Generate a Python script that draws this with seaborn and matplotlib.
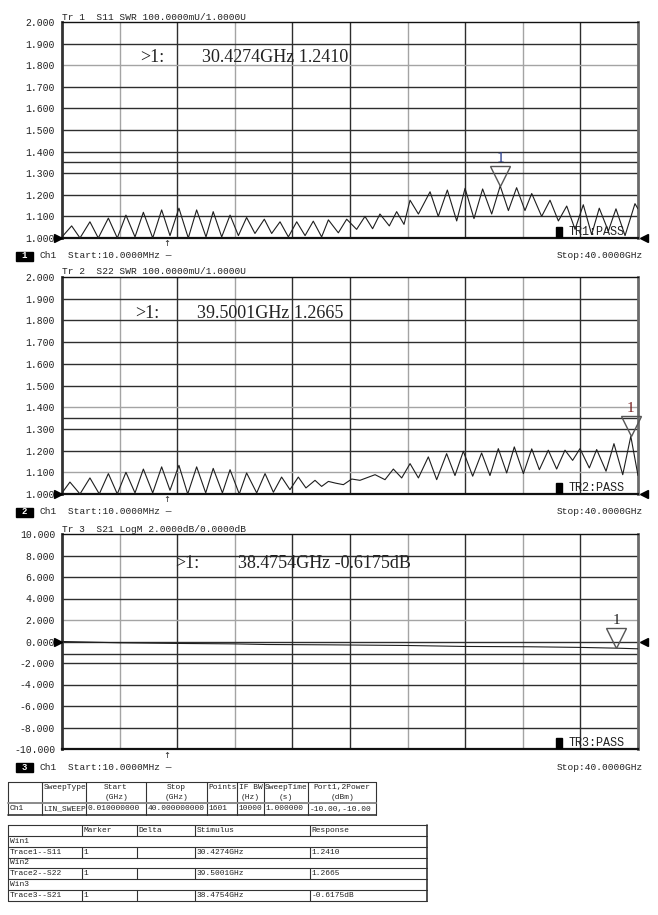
import matplotlib
matplotlib.use("Agg")
import matplotlib.pyplot as plt
import seaborn as sns
from matplotlib.patches import Rectangle
from matplotlib.transforms import offset_copy

# S11 trace (GHz, SWR)
s11_ghz = [0.00, 0.67, 1.25, 1.94, 2.52, 3.22, 3.84, 4.44, 5.07, 5.65, 6.30, 6.92,
           7.50, 8.12, 8.77, 9.35, 10.00, 10.50, 11.09, 11.67, 12.25, 12.82, 13.40,
           14.05, 14.56, 15.14, 15.72, 16.30, 16.88, 17.45, 18.03, 18.50, 19.19,
           19.77, 20.46, 21.04, 21.57, 22.08, 22.73, 23.24, 23.75, 24.17, 24.75,
           25.56, 26.13, 26.76, 27.41, 27.99, 28.61, 29.21, 29.84, 30.43, 31.00,
           31.57, 32.15, 32.62, 33.31, 33.89, 34.47, 35.05, 35.63, 36.20, 36.78,
           37.31, 37.94, 38.47, 39.10, 39.79, 40.00]
s11_swr = [1.005, 1.056, 1.000, 1.075, 1.000, 1.092, 1.000, 1.106, 1.005, 1.119, 1.000, 1.130,
           1.011, 1.138, 1.000, 1.130, 1.005, 1.122, 1.005, 1.106, 1.011, 1.095, 1.021,
           1.087, 1.021, 1.075, 1.005, 1.075, 1.011, 1.078, 1.005, 1.084, 1.024,
           1.087, 1.040, 1.100, 1.043, 1.111, 1.056, 1.122, 1.063, 1.175, 1.111,
           1.214, 1.100, 1.222, 1.079, 1.230, 1.090, 1.227, 1.111, 1.241, 1.127,
           1.233, 1.127, 1.206, 1.100, 1.175, 1.079, 1.148, 1.040, 1.154, 1.016,
           1.138, 1.032, 1.135, 1.011, 1.159, 1.135]

# S22 trace (GHz, SWR)
s22_ghz = [0.00, 0.55, 1.25, 1.94, 2.59, 3.22, 3.84, 4.44, 5.07, 5.65, 6.30, 6.92,
           7.50, 8.12, 8.73, 9.35, 9.98, 10.50, 11.14, 11.67, 12.31, 12.82, 13.52,
           14.10, 14.68, 15.25, 15.83, 16.41, 16.94, 17.57, 18.03, 18.50, 19.00,
           19.54, 20.12, 20.69, 21.74, 22.43, 23.01, 23.59, 24.17, 24.75, 25.44,
           26.02, 26.71, 27.29, 27.87, 28.52, 29.14, 29.72, 30.30, 30.88, 31.41,
           32.04, 32.62, 33.15, 33.77, 34.35, 34.93, 35.46, 35.97, 36.62, 37.13,
           37.78, 38.33, 38.94, 39.50, 40.00]
s22_swr = [1.005, 1.055, 1.000, 1.074, 1.000, 1.094, 1.000, 1.100, 1.005, 1.115, 1.005, 1.125,
           1.017, 1.132, 1.000, 1.125, 1.005, 1.118, 1.005, 1.112, 1.000, 1.097, 1.005,
           1.094, 1.008, 1.078, 1.020, 1.078, 1.028, 1.063, 1.035, 1.058, 1.050,
           1.043, 1.069, 1.063, 1.089, 1.066, 1.115, 1.074, 1.140, 1.074, 1.171,
           1.066, 1.186, 1.085, 1.197, 1.082, 1.189, 1.085, 1.209, 1.097, 1.217,
           1.094, 1.208, 1.112, 1.202, 1.115, 1.202, 1.155, 1.209, 1.120, 1.205,
           1.105, 1.232, 1.089, 1.266, 1.085]

# S21 trace (GHz, dB)
s21_ghz = [0.0, 4.0, 8.0, 11.9, 14.2, 18.5, 23.9, 27.9, 32.5, 36.0, 38.5, 40.0]
s21_db = [0.0, -0.12, -0.18, -0.22, -0.28, -0.31, -0.37, -0.46, -0.49, -0.55, -0.62, -0.68]

# markers
marker_ghz = [30.4274, 39.5001, 38.4754]
marker_val = [1.2410, 1.2665, -0.6175]
marker_txt = ["30.4274GHz 1.2410", "39.5001GHz 1.2665", "38.4754GHz -0.6175dB"]
headers = ["Tr 1  S11 SWR 100.0000mU/1.0000U",
           "Tr 2  S22 SWR 100.0000mU/1.0000U",
           "Tr 3  S21 LogM 2.0000dB/0.0000dB"]
status = ["TR1:PASS", "TR2:PASS", "TR3:PASS"]

# channel table
chan_head = ["", "SweepType", "Start\n(GHz)", "Stop\n(GHz)", "Points",
             "IF BW\n(Hz)", "SweepTime\n(s)", "Port1,2Power\n(dBm)"]
chan_row = ["Ch1", "LIN_SWEEP", "0.010000000", "40.000000000", "1601",
            "10000", "1.000000", "-10.00,-10.00"]

# marker table
mk_head = ["", "Marker", "Delta", "Stimulus", "Response"]
mk_wins = ["Win1", "Win2", "Win3"]
mk_rows = [["Trace1--S11", "1", "", "30.4274GHz", "1.2410"],
           ["Trace2--S22", "1", "", "39.5001GHz", "1.2665"],
           ["Trace3--S21", "1", "", "38.4754GHz", "-0.6175dB"]]

W, H = 658, 915
sns.set_style("white")
MONO = "Liberation Mono"
SERIF = "Liberation Serif"
plt.rcParams["font.family"] = [MONO, "DejaVu Sans Mono"]

fig = plt.figure(figsize=(W / 100, H / 100), dpi=100)

GRAY = "#a4a4a4"
DARK = "#2e2e2e"
V_SHADE = [GRAY, DARK, GRAY, DARK, DARK, GRAY, DARK, GRAY, DARK]


def panel(top, bottom, freq, vals, ylo, step, limit, gray_rows, ref):
    ax = fig.add_axes([62 / W, 1 - bottom / H, 576 / W, (bottom - top) / H])
    ticks = [ylo + i * step for i in range(11)]
    for i, f in enumerate(range(4, 40, 4)):
        ax.axvline(f, color=V_SHADE[i], lw=1.0, zorder=1)
    for t in ticks[1:-1]:
        shade = GRAY if any(abs(t - g) < 1e-6 for g in gray_rows) else DARK
        ax.axhline(t, color=shade, lw=1.0, zorder=1)
    ax.axhline(limit, color=DARK, lw=1.0, zorder=1)
    sns.lineplot(x=freq, y=vals, ax=ax, color="#1e1e1e", lw=0.8,
                 estimator=None, sort=False, zorder=3)
    ax.set_xlim(0, 40)
    ax.set_ylim(ticks[0], ticks[-1])
    ax.set_xticks([])
    ax.set_yticks(ticks)
    ax.set_yticklabels([f"{t:.3f}" for t in ticks], fontfamily=MONO,
                       fontsize=7, color="#222222")
    ax.tick_params(axis="y", length=0, pad=5)
    ax.set_xlabel("")
    ax.set_ylabel("")
    ax.spines["left"].set(color="#333333", lw=2.0)
    ax.spines["right"].set(color="#6a6a6a", lw=2.0)
    ax.spines["top"].set(color="#111111", lw=1.0)
    ax.spines["bottom"].set(color="#111111", lw=1.6)
    ax.plot([0], [ref], marker=">", ms=6, color="k", clip_on=False, zorder=6,
            transform=offset_copy(ax.transData, fig=fig, x=-3, units="points"))
    ax.plot([40], [ref], marker="<", ms=6, color="k", clip_on=False, zorder=6,
            transform=offset_copy(ax.transData, fig=fig, x=4, units="points"))
    return ax


tops = [22, 277, 534]
bottoms = [238, 494, 749]
axes = [
    panel(22, 238, s11_ghz, s11_swr, 1.0, 0.1, 1.35, [1.8], 1.0),
    panel(277, 494, s22_ghz, s22_swr, 1.0, 0.1, 1.35, [1.4, 1.1], 1.0),
    panel(534, 749, s21_ghz, s21_db, -10.0, 2.0, -1.2, [2.0], 0.0),
]

num_colors = ["#2b3f8c", "#7a2222", "#222222"]
for i, ax in enumerate(axes):
    ax.plot([marker_ghz[i]], [marker_val[i]], marker="v", ms=14, mfc="none",
            mec="#555555", mew=1.0, clip_on=False, zorder=5,
            transform=offset_copy(ax.transData, fig=fig, y=7, units="points"))
    ax.annotate("1", xy=(marker_ghz[i], marker_val[i]), xytext=(0, 15),
                textcoords="offset points", ha="center", va="bottom",
                fontsize=11, family=SERIF, color=num_colors[i],
                annotation_clip=False)

# overlay for screen texts and tables, in pixel units
ov = fig.add_axes([0, 0, 1, 1], zorder=5)
ov.set_xlim(0, W)
ov.set_ylim(H, 0)
ov.axis("off")

readout_x = [(140, 202), (135, 197), (175, 238)]
readout_dy = [36, 37, 30]
for i in range(3):
    t, b = tops[i], bottoms[i]
    ov.text(62, t - 5, headers[i], fontsize=6.8, family=MONO, va="center", color="#222222")
    ov.text(readout_x[i][0], t + readout_dy[i], ">1:", fontsize=13, family=SERIF,
            va="center", color="#222222")
    ov.text(readout_x[i][1], t + readout_dy[i], marker_txt[i], fontsize=13,
            family=SERIF, va="center", color="#222222")
    ov.add_patch(Rectangle((556, b - 11.5), 6, 10, color="k"))
    ov.text(569, b - 6.3, status[i], fontsize=8.5, family=MONO, va="center", color="#222222")
    ov.text(166.7, b + 1.5, "↑", fontsize=6, family="DejaVu Sans", ha="center",
            va="top", color="#222222")
    ov.add_patch(Rectangle((16, b + 13.5), 17, 9, color="k"))
    ov.text(24.5, b + 18, str(i + 1), fontsize=6.5, family=MONO, ha="center",
            va="center", color="w", weight="bold")
    ov.text(39, b + 18, "Ch1", fontsize=6.8, family=MONO, va="center", color="#222222")
    ov.text(68, b + 18, "Start:10.0000MHz —", fontsize=6.8, family=MONO,
            va="center", color="#222222")
    ov.text(642.5, b + 18, "Stop:40.0000GHz", fontsize=6.8, family=MONO,
            ha="right", va="center", color="#222222")

TF = dict(fontsize=5.7, family=MONO, color="#222222", va="center")
LINE = dict(color="#333333", lw=0.8)

# channel table
cx = [8, 42, 86, 146, 207, 237, 264, 308, 376]
cy = [782, 803, 815]
for x in cx:
    ov.plot([x, x], [cy[0], cy[-1]], **LINE)
ov.plot([cx[0], cx[-1]], [cy[0], cy[0]], **LINE)
ov.plot([cx[0], cx[-1]], [cy[1], cy[1]], color="#8a8a8a", lw=1.4)
ov.plot([cx[0], cx[-1]], [cy[2], cy[2]], color="#333333", lw=1.2)
for j, txt in enumerate(chan_head):
    if not txt:
        continue
    lines = txt.split("\n")
    if len(lines) == 1 and j in (1, 4):
        ov.text(cx[j] + 1.5, 787.5, lines[0], ha="left", **TF)
    else:
        mid = (cx[j] + cx[j + 1]) / 2
        ov.text(mid, 787.5, lines[0], ha="center", **TF)
        if len(lines) > 1:
            ov.text(mid, 797.5, lines[1], ha="center", **TF)
for j, txt in enumerate(chan_row):
    ov.text(cx[j] + 1.5, 809, txt, ha="left", **TF)

# marker table
mx = [8, 82, 137, 195, 310, 427]
rh = (901 - 825) / 7
my = [825 + k * rh for k in range(8)]
for k, yy in enumerate(my):
    ov.plot([mx[0], mx[-1]], [yy, yy], **LINE)
ov.plot([mx[0], mx[0]], [my[0], my[-1]], **LINE)
ov.plot([mx[-1], mx[-1]], [my[0], my[-1]], color="#333333", lw=1.2)
for k in (0, 2, 4, 6):
    for x in mx[1:-1]:
        ov.plot([x, x], [my[k], my[k + 1]], **LINE)
for j, txt in enumerate(mk_head):
    ov.text(mx[j] + 1.5, (my[0] + my[1]) / 2, txt, ha="left", **TF)
for k in range(3):
    ov.text(mx[0] + 1.5, (my[1 + 2 * k] + my[2 + 2 * k]) / 2, mk_wins[k], ha="left", **TF)
    for j, txt in enumerate(mk_rows[k]):
        ov.text(mx[j] + 1.5, (my[2 + 2 * k] + my[3 + 2 * k]) / 2, txt, ha="left", **TF)

fig.savefig("out.png", dpi=100)
